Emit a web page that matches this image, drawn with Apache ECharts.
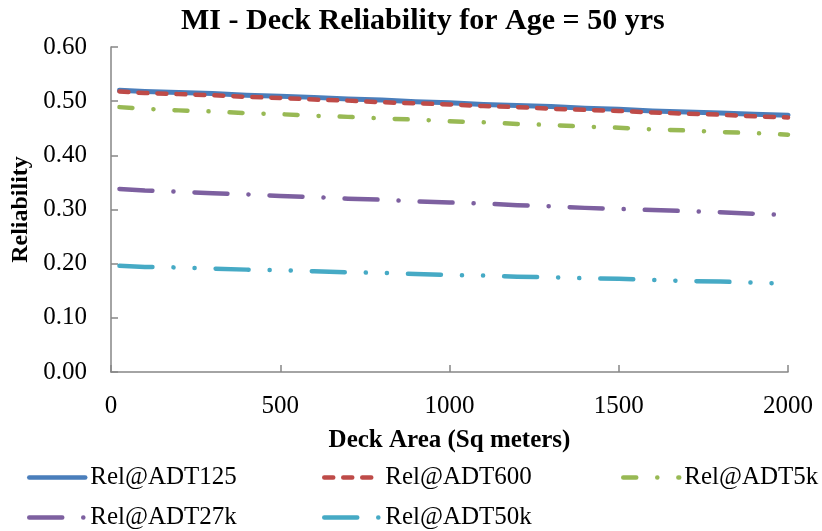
<!DOCTYPE html>
<html>
<head>
<meta charset="utf-8">
<script src="https://cdn.jsdelivr.net/npm/echarts@6/dist/echarts.min.js"></script>
<style>
  html, body { margin: 0; padding: 0; background: #fff; }
  #chart { width: 822px; height: 531px; }
</style>
</head>
<body>
<div id="chart"></div>
<script>
// deck area (sq meters)
const areas = [25, 100, 200, 300, 400, 500, 600, 700, 800, 900, 1000, 1100, 1200, 1300, 1400, 1500, 1600, 1700, 1800, 1900, 2000]

const rel125 = [0.520, 0.518, 0.516, 0.514, 0.511, 0.509, 0.507, 0.504, 0.502, 0.499, 0.497, 0.494, 0.492, 0.490, 0.487, 0.485, 0.482, 0.480, 0.478, 0.476, 0.474]
const rel600 = [0.518, 0.515, 0.513, 0.511, 0.508, 0.506, 0.503, 0.501, 0.498, 0.496, 0.494, 0.491, 0.489, 0.486, 0.484, 0.482, 0.479, 0.477, 0.475, 0.472, 0.470]
const rel5k = [0.489, 0.486, 0.483, 0.481, 0.478, 0.476, 0.473, 0.471, 0.468, 0.466, 0.463, 0.461, 0.458, 0.456, 0.453, 0.451, 0.448, 0.446, 0.443, 0.441, 0.438]
const rel27k = [0.338, 0.335, 0.333, 0.330, 0.328, 0.325, 0.323, 0.320, 0.318, 0.315, 0.313, 0.311, 0.308, 0.306, 0.303, 0.301, 0.299, 0.297, 0.295, 0.292, 0.290]
const rel50k = [0.196, 0.194, 0.193, 0.191, 0.189, 0.188, 0.186, 0.184, 0.183, 0.181, 0.179, 0.178, 0.176, 0.175, 0.173, 0.172, 0.170, 0.168, 0.167, 0.165, 0.163]

const names = ['Rel@ADT125', 'Rel@ADT600', 'Rel@ADT5k', 'Rel@ADT27k', 'Rel@ADT50k']
const colors = ['#4a7ebb', '#be4b48', '#98b954', '#7d60a0', '#46aac5']
const dashes = ['solid', [9, 10], [13, 21, 0.1, 21], [33, 21, 0.1, 21], [33, 21, 0.1, 21, 0.1, 21]]
const widths = [5, 4.5, 4.5, 4.5, 4.5]
const values = [rel125, rel600, rel5k, rel27k, rel50k]

const serif = 'Liberation Serif'
const axisGray = '#868686'

// legend slots (two rows, three columns)
const legendPos = [[27, 465], [322, 465], [621, 465], [27, 505], [322, 505]]

const myChart = echarts.init(document.getElementById('chart'))

const option = {
    animation: false,
    backgroundColor: '#fff',
    title: {
        text: 'MI - Deck Reliability for Age = 50 yrs',
        left: 176,
        top: 1,
        textStyle: { fontFamily: serif, fontSize: 30, fontWeight: 'bold', color: '#000' }
    },
    legend: names.map((n, i) => ({
        data: [n],
        left: legendPos[i][0],
        top: legendPos[i][1],
        itemWidth: 56,
        itemHeight: 14,
        itemGap: 5,
        padding: 0,
        itemStyle: { opacity: 0 },
        lineStyle: { width: 4.5 },
        textStyle: { fontFamily: serif, fontSize: 25, color: '#000' }
    })),
    grid: { left: 111, right: 34, top: 47, bottom: 159 },
    xAxis: {
        type: 'value',
        min: 0,
        max: 2000,
        interval: 500,
        name: 'Deck Area (Sq meters)',
        nameLocation: 'middle',
        nameGap: 56,
        nameTextStyle: { fontFamily: serif, fontSize: 25, fontWeight: 'bold', color: '#000' },
        axisLine: { lineStyle: { color: axisGray, width: 1.5 } },
        axisTick: { inside: true, length: 7, lineStyle: { color: axisGray, width: 1.5 } },
        axisLabel: { fontFamily: serif, fontSize: 25, color: '#000', margin: 22, formatter: v => String(v) },
        splitLine: { show: false }
    },
    yAxis: {
        type: 'value',
        min: 0,
        max: 0.6,
        interval: 0.1,
        name: 'Reliability',
        nameLocation: 'middle',
        nameGap: 74,
        nameTextStyle: { fontFamily: serif, fontSize: 24, fontWeight: 'bold', color: '#000' },
        axisLine: { show: true, lineStyle: { color: axisGray, width: 1.5 } },
        axisTick: { show: true, inside: true, length: 7, lineStyle: { color: axisGray, width: 1.5 } },
        axisLabel: { fontFamily: serif, fontSize: 25, color: '#000', margin: 24, formatter: v => v.toFixed(2) },
        splitLine: { show: false }
    },
    series: names.map((n, i) => ({
        name: n,
        type: 'line',
        showSymbol: false,
        symbol: 'none',
        smooth: false,
        data: areas.map((a, j) => [a, values[i][j]]),
        itemStyle: { color: colors[i] },
        lineStyle: { color: colors[i], width: widths[i], type: dashes[i], cap: 'round', join: 'round' }
    }))
}

myChart.setOption(option)
</script>
</body>
</html>
